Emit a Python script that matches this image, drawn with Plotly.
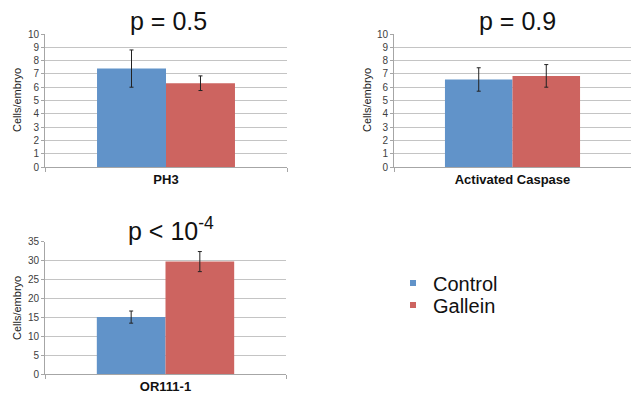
import plotly.graph_objects as go

W, H = 631, 396

series = ["Control", "Gallein"]
colors = ["#6193C9", "#CD6460"]

# panel data
cat_ph3 = ["PH3"]
ph3_mean = [7.4, 6.3]
ph3_err = [1.4, 0.55]

cat_casp = ["Activated Caspase"]
casp_mean = [6.58, 6.85]
casp_err = [0.88, 0.85]

cat_or = ["OR111-1"]
or_mean = [15.1, 29.75]
or_err = [1.6, 2.65]

titles = ["p = 0.5", "p = 0.9", "p < 10<sup>-4</sup>"]
ylabel = "Cells/embryo"

panels = [
    (cat_ph3, ph3_mean, ph3_err, "x", "y"),
    (cat_casp, casp_mean, casp_err, "x2", "y2"),
    (cat_or, or_mean, or_err, "x3", "y3"),
]

fig = go.Figure()
for cats, means, errs, xa, ya in panels:
    for i, s in enumerate(series):
        fig.add_trace(go.Bar(
            x=cats, y=[means[i]], name=s, xaxis=xa, yaxis=ya,
            marker=dict(color=colors[i], line=dict(width=0)),
            error_y=dict(type="data", array=[errs[i]], color="#222222",
                         thickness=1, width=2),
            showlegend=False, offsetgroup=str(i),
        ))

# legend entries (one legend per entry to control spacing)
for i, s in enumerate(series):
    fig.add_trace(go.Scatter(
        x=[None], y=[None], mode="markers", name=s, xaxis="x", yaxis="y",
        marker=dict(symbol="square", size=6, color=colors[i]),
        legend="legend" if i == 0 else "legend2",
    ))

def px(x):
    return x / W

def py(y):
    return 1 - y / H

grid = "#C4C4C4"
tickfont = dict(family="Liberation Sans, Arial", size=10, color="#404040")
xfont = dict(family="Liberation Sans, Arial", size=13, color="#111111", weight="bold")

def xaxis(domain, anchor):
    return dict(domain=domain, anchor=anchor, type="category", automargin=False,
                showline=True, linecolor="#A6A6A6", linewidth=1,
                ticks="outside", tickson="boundaries", ticklen=4, tickcolor="#A6A6A6",
                tickfont=xfont, showgrid=False, fixedrange=True, range=[-0.5, 0.5])

def yaxis(domain, anchor, rng, dtick):
    return dict(domain=domain, anchor=anchor, range=rng, dtick=dtick, automargin=False,
                showline=True, linecolor="#A6A6A6", linewidth=1,
                ticks="outside", ticklen=3, tickcolor="#A6A6A6",
                showgrid=True, gridcolor=grid, gridwidth=1, zeroline=False,
                tickfont=tickfont, fixedrange=True)

lfont = dict(family="Liberation Sans, Arial", size=20, color="#111111")
fig.update_layout(
    width=W, height=H, margin=dict(l=0, r=0, t=0, b=0),
    paper_bgcolor="white", plot_bgcolor="white",
    barmode="group", bargap=0.43, bargroupgap=0,
    xaxis=xaxis([px(45), px(287)], "y"),
    yaxis=yaxis([py(167), py(34)], "x", [0, 10], 1),
    xaxis2=xaxis([px(394), 1.0], "y2"),
    yaxis2=yaxis([py(167), py(34)], "x2", [0, 10], 1),
    xaxis3=xaxis([px(45), px(286)], "y3"),
    yaxis3=yaxis([py(374.3), py(241.7)], "x3", [0, 35], 5),
    legend=dict(x=px(393), y=py(283), xanchor="left", yanchor="middle",
                font=lfont, bgcolor="rgba(0,0,0,0)", itemwidth=30),
    legend2=dict(x=px(393), y=py(305), xanchor="left", yanchor="middle",
                 font=lfont, bgcolor="rgba(0,0,0,0)", itemwidth=30),
    showlegend=True,
)

tfont = dict(family="Liberation Sans, Arial", size=25, color="#111111")
ann = [
    dict(text=titles[0], x=px(168), y=py(21)),
    dict(text=titles[1], x=px(517), y=py(21)),
    dict(text=titles[2], x=px(171), y=py(229)),
]
for a in ann:
    fig.add_annotation(text=a["text"], x=a["x"], y=a["y"], xref="paper", yref="paper",
                       xanchor="center", yanchor="middle", showarrow=False, font=tfont)

yfont = dict(family="Liberation Sans, Arial", size=11, color="#222222")
for xx, yy in [(17, 100), (367, 100), (17, 308)]:
    fig.add_annotation(text=ylabel, x=px(xx), y=py(yy), xref="paper", yref="paper",
                       xanchor="center", yanchor="middle", textangle=-90,
                       showarrow=False, font=yfont)

fig.write_html("out.html")
